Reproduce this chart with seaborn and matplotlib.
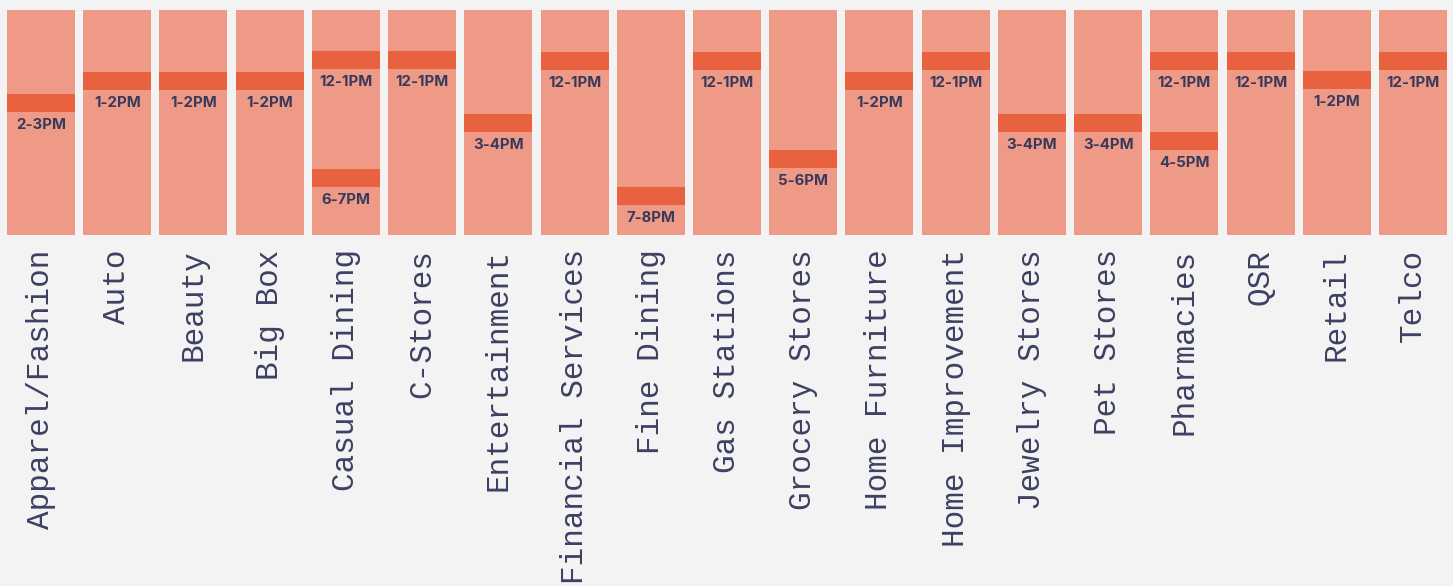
import matplotlib
matplotlib.use("Agg")
import matplotlib.pyplot as plt
import seaborn as sns
import pandas as pd

# ---- data ----
categories = ["Apparel/Fashion", "Auto", "Beauty", "Big Box", "Casual Dining",
              "C-Stores", "Entertainment", "Financial Services", "Fine Dining",
              "Gas Stations", "Grocery Stores", "Home Furniture", "Home Improvement",
              "Jewelry Stores", "Pet Stores", "Pharmacies", "QSR", "Retail", "Telco"]
# peak hour bands (start position on the time axis, in hours) and their labels
peak_category = ["Apparel/Fashion", "Auto", "Beauty", "Big Box", "Casual Dining", "Casual Dining",
                 "C-Stores", "Entertainment", "Financial Services", "Fine Dining",
                 "Gas Stations", "Grocery Stores", "Home Furniture", "Home Improvement",
                 "Jewelry Stores", "Pet Stores", "Pharmacies", "Pharmacies", "QSR", "Retail", "Telco"]
peak_start = [14.39, 13.16, 13.16, 13.16, 12.0, 18.55,
              12.0, 15.5, 12.05, 19.55,
              12.05, 17.5, 13.16, 12.05,
              15.5, 15.5, 12.05, 16.5, 12.05, 13.1, 12.05]
peak_label = ["2-3PM", "1-2PM", "1-2PM", "1-2PM", "12-1PM", "6-7PM",
              "12-1PM", "3-4PM", "12-1PM", "7-8PM",
              "12-1PM", "5-6PM", "1-2PM", "12-1PM",
              "3-4PM", "3-4PM", "12-1PM", "4-5PM", "12-1PM", "1-2PM", "12-1PM"]
day_start = 9.72
day_end = 22.24
band_len = 1.0

BG = "#f3f3f3"
COL = "#ef9a87"
BAND = "#e9623f"
TXT = "#373a5a"
TICK_TXT = "#3d4062"

sns.set_theme(style="white")
plt.rcParams["font.family"] = ["DejaVu Sans"]

W, H = 1453, 586
fig = plt.figure(figsize=(W / 100, H / 100), dpi=100, facecolor=BG)
ax_left = 2.9 / W
ax_w = 1448.2 / W
ax_top = 10 / H
ax_bot = 235.3 / H
ax = fig.add_axes([ax_left, 1 - ax_bot, ax_w, ax_bot - ax_top])
ax.set_facecolor(BG)

df = pd.DataFrame({"category": categories, "span": [day_end] * len(categories)})
sns.barplot(data=df, x="category", y="span", order=categories, color=COL,
            width=68 / 76.22, saturation=1, ax=ax, edgecolor="none")

xpos = {c: i for i, c in enumerate(categories)}
bw = 68 / 76.22
for cat, st, lab in zip(peak_category, peak_start, peak_label):
    x = xpos[cat]
    ax.bar(x, band_len, bottom=st, width=bw, color=BAND, edgecolor="none", zorder=3)
    ax.annotate(lab, xy=(x, st + band_len), xytext=(0, -9.6), textcoords="offset points",
                ha="center", va="center", fontsize=10.8, fontweight="bold",
                color=TXT, family=["Inter", "DejaVu Sans"], zorder=4)

ax.set_ylim(day_end, day_start)
ax.set_xlim(-0.5, len(categories) - 0.5)
ax.set_xlabel("")
ax.set_ylabel("")
ax.set_yticks([])
ax.set_xticks(range(len(categories)))
ax.set_xticklabels(categories, rotation=90, fontsize=22.3, color=TICK_TXT,
                   family=["Liberation Mono", "DejaVu Sans Mono"])
ax.tick_params(axis="x", length=0, pad=10.0)
for s in ax.spines.values():
    s.set_visible(False)

fig.savefig("out.png", dpi=100, facecolor=BG)
